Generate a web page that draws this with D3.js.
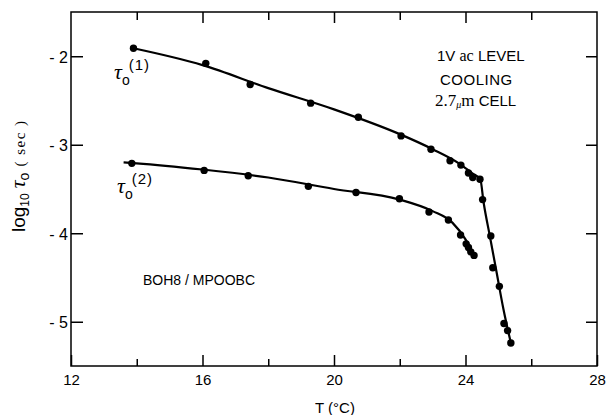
<!DOCTYPE html>
<html>
<head>
<meta charset="utf-8">
<script src="https://cdn.jsdelivr.net/npm/d3@7/dist/d3.min.js"></script>
<style>
  body { margin: 0; background: #fff; }
  svg { display: block; }
</style>
</head>
<body>
<svg id="chart" width="607" height="415"></svg>
<script>
// measured points, T in deg C and log10 tau0 (sec)
var tau1_T   = [13.9, 16.1, 17.45, 19.29, 20.74, 22.04, 22.95, 23.53, 23.86, 24.09, 24.22, 24.44, 24.52, 24.77, 24.83, 25.03, 25.17, 25.28, 25.38];
var tau1_log = [-1.91, -2.08, -2.32, -2.53, -2.69, -2.90, -3.05, -3.18, -3.23, -3.32, -3.37, -3.39, -3.62, -4.03, -4.39, -4.60, -5.02, -5.10, -5.24];

var tau2_T   = [13.85, 16.05, 17.39, 19.22, 20.67, 21.99, 22.89, 23.48, 23.85, 24.02, 24.09, 24.16, 24.26];
var tau2_log = [-3.21, -3.29, -3.35, -3.47, -3.54, -3.61, -3.76, -3.85, -4.02, -4.12, -4.16, -4.21, -4.25];

// hand drawn fit curves
var fit1_T   = [13.9, 16, 18, 20, 22, 23, 23.8, 24.2, 24.45, 24.55, 24.75, 24.95, 25.15, 25.38];
var fit1_log = [-1.91, -2.10, -2.36, -2.60, -2.88, -3.05, -3.21, -3.32, -3.39, -3.65, -4.05, -4.45, -4.85, -5.24];
var fit2_T   = [13.6, 14, 16, 18, 20, 22, 23, 23.6, 24, 24.26];
var fit2_log = [-3.20, -3.21, -3.28, -3.37, -3.50, -3.62, -3.75, -3.88, -4.07, -4.25];

var xTicks = [12, 16, 20, 24, 28];
var xMinor = [14, 18, 22, 26];
var yTicks = [-2, -3, -4, -5];

var SANS = "Liberation Sans, Arial, sans-serif";
var SERIF = "Liberation Serif, DejaVu Serif, serif";

var svg = d3.select("#chart");

var x = d3.scaleLinear().domain([12, 28]).range([71, 597]);
var y = d3.scaleLinear().domain([-5.5, -1.5]).range([366, 12]);

var zip = function(a, b) { return a.map(function(v, i) { return [v, b[i]]; }); };

// frame
svg.append("rect")
  .attr("x", x(12)).attr("y", y(-1.5))
  .attr("width", x(28) - x(12)).attr("height", y(-5.5) - y(-1.5))
  .attr("fill", "none").attr("stroke", "#000").attr("stroke-width", 1.5);

// axes, ticks pointing inward on all four sides
var style_axis = function(g) {
  g.select(".domain").remove();
  g.selectAll(".tick line").attr("stroke", "#000").attr("stroke-width", 1.5);
  g.attr("font-family", SANS);
  g.selectAll("text").attr("fill", "#000").attr("font-family", SANS);
};
var inner = xTicks.slice(1, -1);

svg.append("g").attr("transform", "translate(0," + y(-5.5) + ")")
  .call(d3.axisBottom(x).tickValues(xTicks).tickSize(-11).tickPadding(8).tickFormat(d3.format("d")))
  .call(style_axis)
  .attr("font-size", 15);
svg.append("g").attr("transform", "translate(0," + y(-5.5) + ")")
  .call(d3.axisBottom(x).tickValues(xMinor).tickSize(-7).tickFormat(""))
  .call(style_axis);
svg.append("g").attr("transform", "translate(0," + y(-1.5) + ")")
  .call(d3.axisTop(x).tickValues(inner).tickSize(-11).tickFormat(""))
  .call(style_axis);
svg.append("g").attr("transform", "translate(0," + y(-1.5) + ")")
  .call(d3.axisTop(x).tickValues(xMinor).tickSize(-8).tickFormat(""))
  .call(style_axis);

svg.append("g").attr("transform", "translate(" + x(12) + ",0)")
  .call(d3.axisLeft(y).tickValues(yTicks).tickSize(-12).tickPadding(3)
    .tickFormat(function(d) { return "- " + Math.abs(d); }))
  .call(style_axis)
  .attr("font-size", 16)
  .selectAll("text").attr("dy", "0.36em");
svg.append("g").attr("transform", "translate(" + x(28) + ",0)")
  .call(d3.axisRight(y).tickValues(yTicks).tickSize(-11).tickFormat(""))
  .call(style_axis);

// axis titles
svg.append("text").attr("font-family", SANS).attr("x", 335).attr("y", 413)
  .attr("text-anchor", "middle").attr("font-size", 15).text("T (°C)");

var yt = svg.append("text").attr("transform", "translate(25,232) rotate(-90)");
yt.append("tspan").attr("font-family", SANS).attr("font-size", 19).text("log");
yt.append("tspan").attr("font-family", SANS).attr("font-size", 12).attr("dy", 4).text("10");
yt.append("tspan").attr("font-family", SERIF).attr("font-size", 22).attr("font-style", "italic").attr("dx", 5).attr("dy", -4).text("τ");
yt.append("tspan").attr("font-family", SANS).attr("font-size", 14).attr("dy", 4).text("o");
yt.append("tspan").attr("font-family", SERIF).attr("font-size", 15).attr("dx", 6).attr("dy", -4)
  .attr("letter-spacing", 1.5).text("( sec )");

// curves
var line = d3.line()
  .x(function(d) { return x(d[0]); })
  .y(function(d) { return y(d[1]); })
  .curve(d3.curveMonotoneX);

[zip(fit1_T, fit1_log), zip(fit2_T, fit2_log)].forEach(function(pts) {
  svg.append("path").attr("d", line(pts))
    .attr("fill", "none").attr("stroke", "#000").attr("stroke-width", 2.2);
});

// points
[zip(tau1_T, tau1_log), zip(tau2_T, tau2_log)].forEach(function(pts) {
  svg.append("g").selectAll("circle").data(pts).enter().append("circle")
    .attr("cx", function(d) { return x(d[0]); })
    .attr("cy", function(d) { return y(d[1]); })
    .attr("r", 3.7).attr("fill", "#000");
});

// series labels
var tauLabel = function(px, py, n) {
  var t = svg.append("text").attr("x", px).attr("y", py);
  t.append("tspan").attr("font-family", SERIF).attr("font-style", "italic").attr("font-size", 22).text("τ");
  t.append("tspan").attr("font-family", SANS).attr("font-size", 14).attr("dy", 6).text("o");
  t.append("tspan").attr("font-family", SANS).attr("font-size", 15).attr("dy", -15).attr("dx", -1)
    .attr("letter-spacing", 1).text("(" + n + ")");
};
tauLabel(114, 79, 1);
tauLabel(117, 193, 2);

// annotation block
var a1 = svg.append("text").attr("x", 437).attr("y", 61).attr("font-size", 15);
a1.append("tspan").attr("font-family", SANS).text("1V ");
a1.append("tspan").attr("font-family", SERIF).attr("font-size", 16).text("ac");
a1.append("tspan").attr("font-family", SANS).text(" LEVEL");
svg.append("text").attr("font-family", SANS).attr("font-size", 15)
  .attr("x", 440).attr("y", 85).attr("letter-spacing", 0.5).text("COOLING");
var a3 = svg.append("text").attr("x", 435).attr("y", 106).attr("font-size", 15);
a3.append("tspan").attr("font-family", SERIF).attr("font-size", 17).text("2.7");
a3.append("tspan").attr("font-family", SERIF).attr("font-size", 10).attr("font-style", "italic").attr("dy", 2).text("μ");
a3.append("tspan").attr("font-family", SERIF).attr("font-size", 17).attr("dy", -2).text("m");
a3.append("tspan").attr("font-family", SANS).text(" CELL");

svg.append("text").attr("font-family", SANS).attr("x", 143).attr("y", 285)
  .attr("font-size", 14).text("BOH8 / MPOOBC");
</script>
</body>
</html>
